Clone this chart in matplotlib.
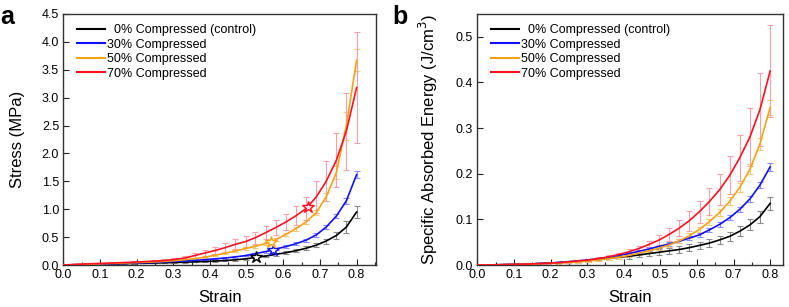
import matplotlib.pyplot as plt
from matplotlib.ticker import MultipleLocator

plt.rcParams["font.family"] = ["Liberation Sans", "DejaVu Sans"]

# shared strain grid (points where the error bars sit)
strain = [0, 0.028, 0.055, 0.083, 0.11, 0.138, 0.166, 0.193, 0.221, 0.248,
          0.276, 0.303, 0.331, 0.359, 0.386, 0.414, 0.441, 0.469, 0.497, 0.524,
          0.552, 0.579, 0.607, 0.634, 0.662, 0.69, 0.717, 0.745, 0.772, 0.8]

labels = ["  0% Compressed (control)", "30% Compressed", "50% Compressed", "70% Compressed"]
colors = ["#000000", "#1010ff", "#f5a313", "#ff1020"]
err_colors = ["#8a8a8a", "#8c8cff", "#f7c878", "#f7a0aa"]

# ---- panel a: stress (MPa)
stress_0 = [0, 0.004, 0.008, 0.012, 0.016, 0.02, 0.024, 0.028, 0.032, 0.036,
            0.04, 0.045, 0.05, 0.056, 0.063, 0.07, 0.08, 0.092, 0.11, 0.135,
            0.16, 0.19, 0.22, 0.255, 0.30, 0.355, 0.43, 0.53, 0.68, 0.95]
stress_30 = [0, 0.005, 0.01, 0.015, 0.02, 0.025, 0.03, 0.035, 0.04, 0.046,
             0.055, 0.065, 0.073, 0.083, 0.095, 0.11, 0.125, 0.145, 0.17, 0.205,
             0.24, 0.285, 0.33, 0.38, 0.445, 0.54, 0.68, 0.88, 1.15, 1.62]
stress_50 = [0, 0.006, 0.012, 0.018, 0.024, 0.03, 0.036, 0.042, 0.048, 0.055,
             0.065, 0.078, 0.095, 0.115, 0.14, 0.175, 0.21, 0.25, 0.295, 0.335,
             0.385, 0.45, 0.55, 0.65, 0.77, 0.94, 1.22, 1.66, 2.50, 3.67]
stress_70 = [0, 0.008, 0.016, 0.024, 0.03, 0.037, 0.044, 0.052, 0.06, 0.07,
             0.08, 0.10, 0.125, 0.17, 0.215, 0.26, 0.31, 0.37, 0.42, 0.49,
             0.58, 0.67, 0.77, 0.88, 1.01, 1.22, 1.50, 1.88, 2.40, 3.18]

stress_sd_0 = [0, 0.002, 0.002, 0.003, 0.003, 0.004, 0.004, 0.005, 0.005, 0.006,
               0.006, 0.007, 0.008, 0.009, 0.01, 0.011, 0.012, 0.014, 0.016, 0.018,
               0.02, 0.022, 0.025, 0.028, 0.032, 0.036, 0.045, 0.065, 0.11, 0.11]
stress_sd_30 = [0, 0.002, 0.002, 0.003, 0.003, 0.004, 0.004, 0.005, 0.005, 0.006,
                0.006, 0.007, 0.008, 0.009, 0.01, 0.011, 0.012, 0.013, 0.014, 0.016,
                0.018, 0.02, 0.022, 0.024, 0.026, 0.03, 0.035, 0.04, 0.05, 0.06]
stress_sd_50 = [0, 0.002, 0.002, 0.003, 0.003, 0.004, 0.004, 0.005, 0.005, 0.006,
                0.007, 0.008, 0.009, 0.01, 0.012, 0.014, 0.016, 0.018, 0.02, 0.022,
                0.025, 0.028, 0.032, 0.036, 0.04, 0.05, 0.07, 0.12, 0.25, 0.20]
stress_sd_70 = [0, 0.003, 0.004, 0.005, 0.006, 0.008, 0.01, 0.012, 0.015, 0.018,
                0.022, 0.03, 0.04, 0.05, 0.06, 0.07, 0.08, 0.09, 0.10, 0.11,
                0.12, 0.13, 0.14, 0.17, 0.21, 0.28, 0.36, 0.48, 0.69, 0.99]

# yield points (open stars)
star_strain = [0.525, 0.571, 0.567, 0.668]
star_stress = [0.14, 0.27, 0.41, 1.045]

# ---- panel b: specific absorbed energy (J/cm3)
energy_0 = [0, 0.0002, 0.0005, 0.001, 0.0015, 0.002, 0.003, 0.004, 0.005, 0.0065,
            0.008, 0.01, 0.012, 0.0145, 0.017, 0.019, 0.022, 0.025, 0.028, 0.031,
            0.034, 0.038, 0.043, 0.048, 0.055, 0.063, 0.074, 0.088, 0.106, 0.135]
energy_30 = [0, 0.0002, 0.0005, 0.001, 0.0015, 0.002, 0.003, 0.004, 0.0055, 0.007,
             0.009, 0.011, 0.014, 0.017, 0.021, 0.025, 0.03, 0.035, 0.041, 0.046,
             0.052, 0.059, 0.066, 0.077, 0.089, 0.104, 0.122, 0.145, 0.175, 0.215]
energy_50 = [0, 0.0002, 0.0004, 0.0008, 0.0013, 0.002, 0.0025, 0.0035, 0.0045, 0.0055,
             0.007, 0.009, 0.011, 0.014, 0.017, 0.021, 0.026, 0.031, 0.037, 0.044,
             0.053, 0.064, 0.078, 0.095, 0.115, 0.14, 0.17, 0.21, 0.265, 0.345]
energy_70 = [0, 0.0002, 0.0005, 0.001, 0.0015, 0.002, 0.003, 0.004, 0.005, 0.007,
             0.009, 0.011, 0.014, 0.018, 0.023, 0.029, 0.036, 0.045, 0.055, 0.067,
             0.081, 0.097, 0.117, 0.139, 0.165, 0.197, 0.235, 0.281, 0.34, 0.425]

energy_sd_0 = [0, 0.0005, 0.0005, 0.001, 0.001, 0.0015, 0.0015, 0.002, 0.002, 0.0025,
               0.003, 0.003, 0.0035, 0.004, 0.0045, 0.005, 0.005, 0.0055, 0.006, 0.0065,
               0.007, 0.0075, 0.008, 0.0085, 0.009, 0.01, 0.011, 0.012, 0.013, 0.014]
energy_sd_30 = [0, 0.0003, 0.0004, 0.0005, 0.0006, 0.0008, 0.001, 0.0012, 0.0014, 0.0016,
                0.0018, 0.002, 0.0022, 0.0025, 0.0028, 0.003, 0.0032, 0.0034, 0.0036, 0.0038,
                0.004, 0.0042, 0.0045, 0.0048, 0.005, 0.0055, 0.006, 0.0065, 0.007, 0.008]
energy_sd_50 = [0, 0.0003, 0.0004, 0.0005, 0.0006, 0.0008, 0.001, 0.0012, 0.0014, 0.0016,
                0.0018, 0.002, 0.0022, 0.0025, 0.0028, 0.003, 0.0032, 0.0035, 0.004, 0.0045,
                0.005, 0.0055, 0.006, 0.0065, 0.007, 0.008, 0.009, 0.011, 0.013, 0.016]
energy_sd_70 = [0, 0.0004, 0.0005, 0.0006, 0.0008, 0.001, 0.0012, 0.0014, 0.0016, 0.0018,
                0.002, 0.0025, 0.003, 0.0035, 0.004, 0.0055, 0.0065, 0.0085, 0.011, 0.014,
                0.017, 0.022, 0.024, 0.029, 0.034, 0.041, 0.05, 0.063, 0.08, 0.10]

stress_sets = [stress_0, stress_30, stress_50, stress_70]
stress_sds = [stress_sd_0, stress_sd_30, stress_sd_50, stress_sd_70]
energy_sets = [energy_0, energy_30, energy_50, energy_70]
energy_sds = [energy_sd_0, energy_sd_30, energy_sd_50, energy_sd_70]

fig = plt.figure(figsize=(7.89, 3.07), dpi=100)
ax_a = fig.add_axes([0.0802, 0.1368, 0.3964, 0.8176])
ax_b = fig.add_axes([0.6050, 0.1368, 0.3878, 0.8176])


def draw_panel(ax, ys, sds):
    for y, sd, ec in zip(ys, sds, err_colors):
        ax.errorbar(strain[1:], y[1:], yerr=sd[1:], fmt="none", ecolor=ec,
                    elinewidth=0.8, capsize=2, capthick=0.8, zorder=2)
    for y, c, lab in zip(ys, colors, labels):
        ax.plot(strain, y, color=c, lw=1.2, label=lab, zorder=3)


def style_axes(ax):
    ax.set_xlim(0, 0.853)
    ax.xaxis.set_major_locator(MultipleLocator(0.1))
    ax.xaxis.set_minor_locator(MultipleLocator(0.05))
    ax.tick_params(which="both", direction="in", labelsize=9, pad=3,
                   width=0.8, color="#222222")
    ax.tick_params(which="major", length=4)
    ax.tick_params(which="minor", length=2)
    for s in ax.spines.values():
        s.set_color("#333333")
        s.set_linewidth(1.0)
    ax.set_xlabel("Strain", fontsize=12)
    ax.xaxis.set_label_coords(0.5, -0.10)
    leg = ax.legend(loc="upper left", bbox_to_anchor=(0.045, 0.96), frameon=False,
                    fontsize=9, handlelength=2.2, handletextpad=0.2,
                    labelspacing=0.2, borderpad=0, borderaxespad=0)
    for h in leg.get_lines():
        h.set_linewidth(1.5)


draw_panel(ax_a, stress_sets, stress_sds)
for xs, ys, c in zip(star_strain, star_stress, colors):
    ax_a.plot(xs, ys, marker="*", ms=9, mfc="white", mec=c, mew=1.0,
              ls="none", zorder=4)
style_axes(ax_a)
ax_a.set_ylim(0, 4.5)
ax_a.yaxis.set_major_locator(MultipleLocator(0.5))
ax_a.set_ylabel("Stress (MPa)", fontsize=12)
ax_a.yaxis.set_label_coords(-0.122, 0.5)

draw_panel(ax_b, energy_sets, energy_sds)
style_axes(ax_b)
ax_b.set_xlim(0, 0.836)
ax_b.set_ylim(0, 0.55)
ax_b.yaxis.set_major_locator(MultipleLocator(0.1))
ax_b.set_ylabel("Specific Absorbed Energy (J/cm$^3$)", fontsize=12)
ax_b.yaxis.set_label_coords(-0.122, 0.5)

fig.text(0.0, 0.985, "a", fontsize=18, fontweight="bold", va="top", ha="left")
fig.text(0.497, 0.985, "b", fontsize=18, fontweight="bold", va="top", ha="left")

fig.savefig("out.png", dpi=100)
